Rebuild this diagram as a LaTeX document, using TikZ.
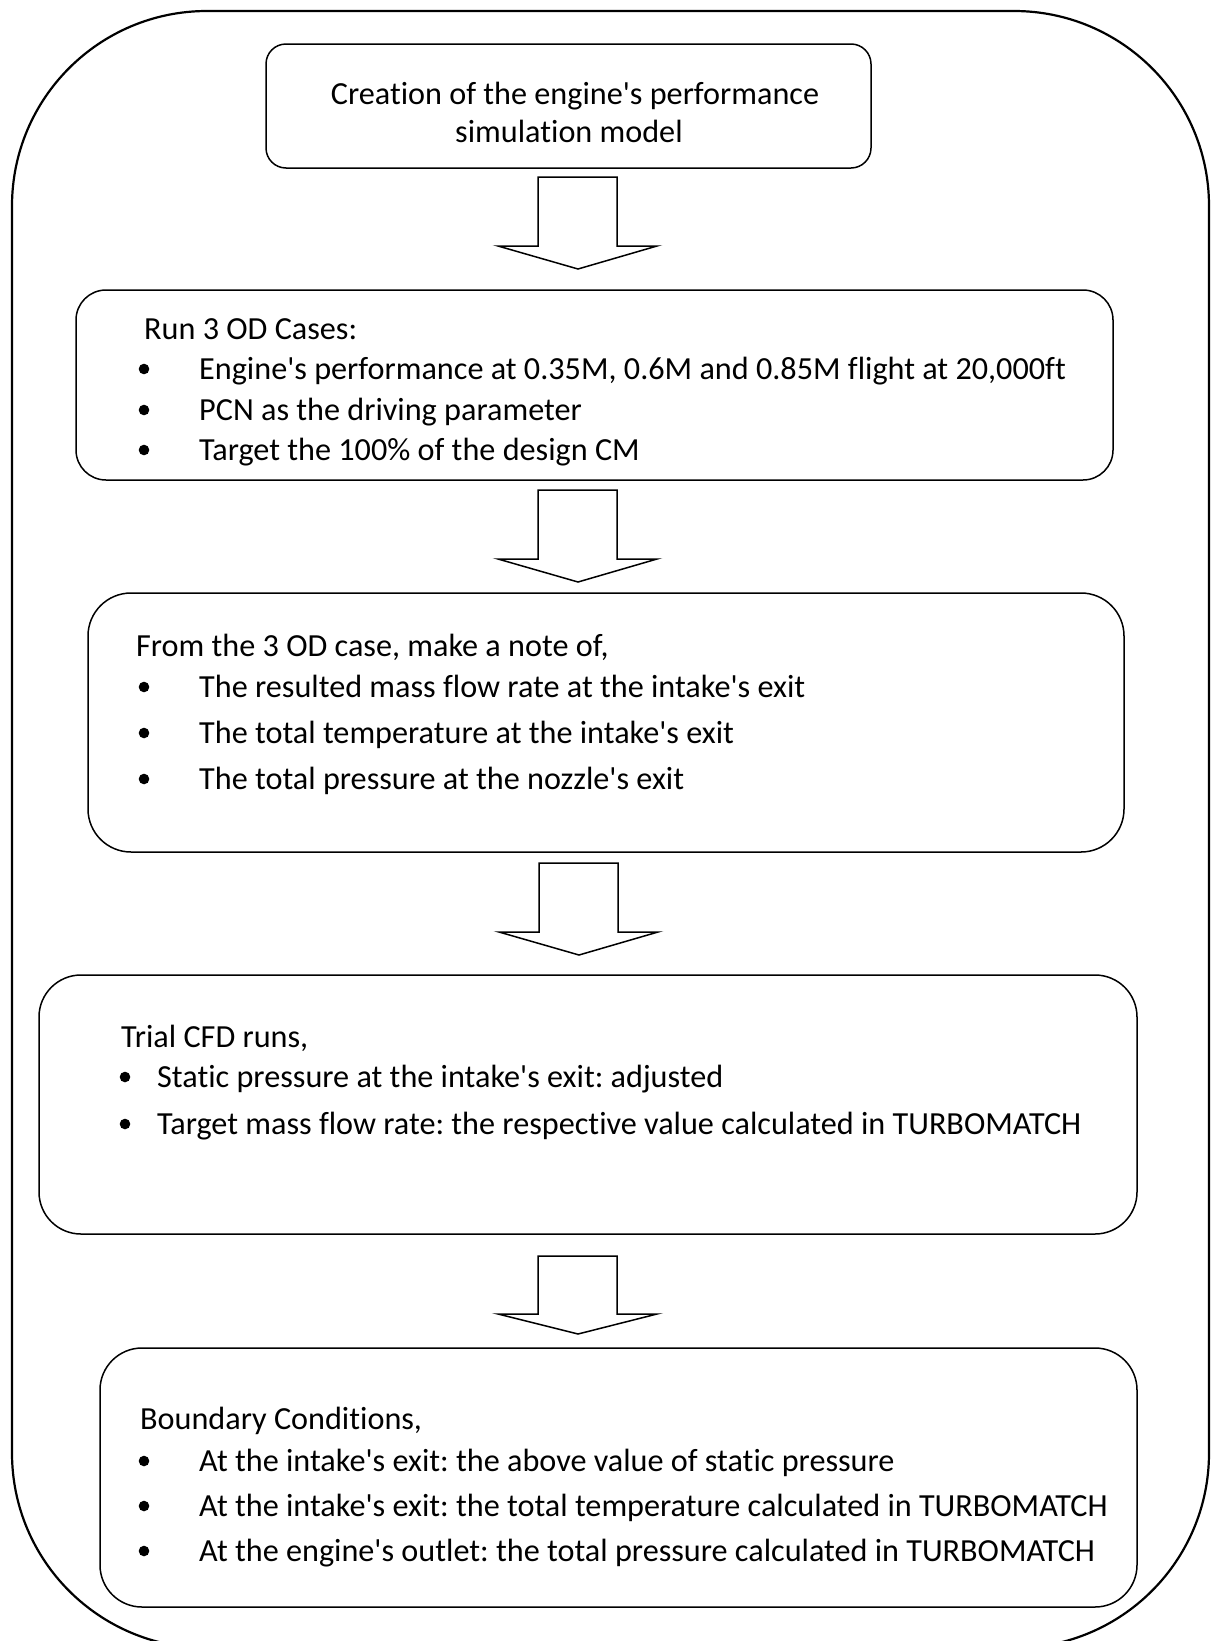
\documentclass[tikz,border=0pt]{standalone}
\usepackage{fontspec}
\newfontfamily\calfont[Ligatures={NoCommon}]{Carlito}
\tikzset{
  box/.style={draw=black, line width=1.5pt, rectangle, inner sep=0pt, fill=white},
  frameline/.style={draw=black, line width=2.2pt},
  arr/.style={draw=black, line width=1.5pt, fill=white, line join=miter},
  txt/.style={font=\calfont\fontsize{32.2}{38}\selectfont\frenchspacing, inner sep=0pt, anchor=base west},
  ctxt/.style={txt, anchor=base},
  bul/.style={fill=black}
}
\newcommand\blockarr[4]{%
  \draw[arr] (#1-40,#2) -- (#1+39,#2) -- (#1+39,#3) -- (#1+79,#3) -- (#1,#4) -- (#1-80,#3) -- (#1-40,#3) -- cycle;}
\begin{document}
\begin{tikzpicture}[x=1pt,y=-1pt]
\useasboundingbox (0,0) rectangle (1212,1641);
\clip (0,0) rectangle (1212,1641);
\fill[white] (0,0) rectangle (1212,1641);
% outer frame
\draw[frameline, rounded corners=195pt] (12,11) rectangle (1209,1648);

% boxes
\node[box, rounded corners=20pt, minimum width=605pt, minimum height=124pt] (b1) at (568.5,106) {};
\node[box, rounded corners=30pt, minimum width=1037pt, minimum height=190pt] (b2) at (594.5,385) {};
\node[box, rounded corners=43pt, minimum width=1036pt, minimum height=259pt] (b3) at (606,722.5) {};
\node[box, rounded corners=42pt, minimum width=1098pt, minimum height=259pt] (b4) at (588,1104.5) {};
\node[box, rounded corners=42pt, minimum width=1037pt, minimum height=259pt] (b5) at (618.5,1477.5) {};

% block arrows
\blockarr{578}{177}{246}{269}
\blockarr{578}{490}{559}{582}
\blockarr{579}{863}{932}{955}
\blockarr{578}{1256}{1314}{1334}

% box 1 text
\node[ctxt] (t1a) at (575,104) {Creation of the engine's performance};
\node[ctxt] (t1b) at (569,142) {simulation model};

% box 2 text
\node[txt] (t2h) at (144,339) {Run 3 OD Cases:};
\node[txt] (t2a) at (199,379) {Engine's performance at 0.35M, 0.6M and 0.85M flight at 20,000ft};
\node[txt] (t2b) at (199,420) {PCN as the driving parameter};
\node[txt] (t2c) at (199,460) {Target the 100\% of the design CM};
\foreach \yy in {369,410,450} \fill[bul] (144,\yy) circle (5.3pt);

% box 3 text
\node[txt] (t3h) at (136,656) {From the 3 OD case, make a note of,};
\node[txt] (t3a) at (199,697) {The resulted mass flow rate at the intake's exit};
\node[txt] (t3b) at (199,743) {The total temperature at the intake's exit};
\node[txt] (t3c) at (199,789) {The total pressure at the nozzle's exit};
\foreach \yy in {687,733,779} \fill[bul] (144,\yy) circle (5.3pt);

% box 4 text
\node[txt] (t4h) at (121,1047) {Trial CFD runs,};
\node[txt] (t4a) at (157,1087) {Static pressure at the intake's exit: adjusted};
\node[txt] (t4b) at (157,1134) {Target mass flow rate: the respective value calculated in TURBOMATCH};
\foreach \yy in {1077,1124} \fill[bul] (125,\yy) circle (5.3pt);

% box 5 text
\node[txt] (t5h) at (140,1429) {Boundary Conditions,};
\node[txt] (t5a) at (199,1471) {At the intake's exit: the above value of static pressure};
\node[txt] (t5b) at (199,1516) {At the intake's exit: the total temperature calculated in TURBOMATCH};
\node[txt] (t5c) at (199,1561) {At the engine's outlet: the total pressure calculated in TURBOMATCH};
\foreach \yy in {1461,1506,1551} \fill[bul] (144,\yy) circle (5.3pt);
\end{tikzpicture}
\end{document}
